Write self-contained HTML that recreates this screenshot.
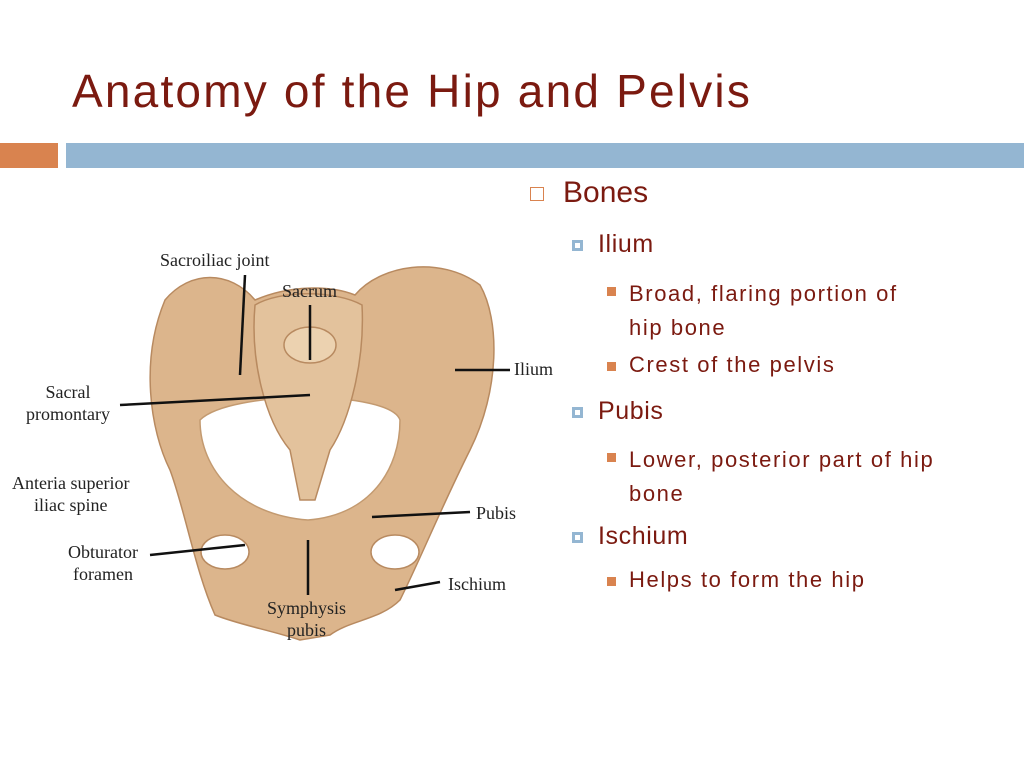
<!DOCTYPE html>
<html><head><style>
body{margin:0;width:1024px;height:768px;background:#fff;position:relative;overflow:hidden;font-family:"Liberation Sans",sans-serif;color:#7b1a10}
.t{position:absolute;left:72px;top:64px;font-size:46px;letter-spacing:2.2px;white-space:nowrap}
.b{position:absolute;top:143px;height:25px}
.x{position:absolute;white-space:nowrap}
.l{position:absolute;font-family:"Liberation Serif",serif;color:#222;font-size:18px;line-height:22px;text-align:center;white-space:nowrap}
.sq{position:absolute;width:9px;height:9px;background:#d9834f}
.s{font-size:22px;letter-spacing:1.6px}
</style></head><body>
<div class="t">Anatomy of the Hip and Pelvis</div>
<div class="b" style="left:0;width:58px;background:#d9834f"></div>
<div class="b" style="left:66px;width:958px;background:#94b6d2"></div>

<svg style="position:absolute;left:0;top:0" width="560" height="768">
<g fill="#dcb58c" stroke="#b88a60" stroke-width="1.5">
<path d="M165 300 C190 270 230 270 255 300 C290 285 330 285 355 295 C380 265 440 255 480 285 C500 320 500 390 470 450 C440 510 420 560 400 600 C380 620 350 620 330 635 L300 640 C270 630 240 625 215 615 C195 570 185 510 170 470 C150 430 140 360 165 300Z"/>
<path d="M200 420 C200 470 240 515 308 520 C370 515 400 470 400 420 C390 390 230 390 200 420Z" fill="#fff" stroke="#c39a70"/>
<path d="M255 305 C280 290 335 290 362 305 C365 360 350 420 330 450 L315 500 L300 500 L290 450 C265 420 250 360 255 305Z" fill="#e3c29c"/>
<ellipse cx="310" cy="345" rx="26" ry="18" fill="#ecd2b0"/>
<ellipse cx="225" cy="552" rx="24" ry="17" fill="#fff"/>
<ellipse cx="395" cy="552" rx="24" ry="17" fill="#fff"/>
</g>
<g stroke="#111" stroke-width="2.5" fill="none">
<line x1="245" y1="275" x2="240" y2="375"/>
<line x1="310" y1="305" x2="310" y2="360"/>
<line x1="455" y1="370" x2="510" y2="370"/>
<line x1="120" y1="405" x2="310" y2="395"/>
<line x1="372" y1="517" x2="470" y2="512"/>
<line x1="150" y1="555" x2="245" y2="545"/>
<line x1="308" y1="540" x2="308" y2="595"/>
<line x1="395" y1="590" x2="440" y2="582"/>
</g>
</svg>
<div class="l" style="left:160px;top:249px">Sacroiliac joint</div>
<div class="l" style="left:282px;top:280px">Sacrum</div>
<div class="l" style="left:514px;top:358px;text-align:left">Ilium</div>
<div class="l" style="left:26px;top:381px">Sacral<br>promontary</div>
<div class="l" style="left:12px;top:472px">Anteria superior<br>iliac spine</div>
<div class="l" style="left:476px;top:502px">Pubis</div>
<div class="l" style="left:68px;top:541px">Obturator<br>foramen</div>
<div class="l" style="left:448px;top:573px">Ischium</div>
<div class="l" style="left:267px;top:597px">Symphysis<br>pubis</div>

<div style="position:absolute;left:530px;top:187px;width:12px;height:12px;border:1.5px solid #d9834f"></div>
<div class="x" style="left:563px;top:176px;font-size:30px">Bones</div>
<div style="position:absolute;left:572px;top:240px;width:5px;height:5px;border:3px solid #94b6d2"></div>
<div class="x" style="left:598px;top:230px;font-size:25px;letter-spacing:0.6px">Ilium</div>
<div class="sq" style="left:607px;top:287px"></div>
<div class="x s" style="left:629px;top:277px;line-height:34px">Broad, flaring portion of<br>hip bone</div>
<div class="sq" style="left:607px;top:362px"></div>
<div class="x s" style="left:629px;top:352px">Crest of the pelvis</div>
<div style="position:absolute;left:572px;top:407px;width:5px;height:5px;border:3px solid #94b6d2"></div>
<div class="x" style="left:598px;top:397px;font-size:25px;letter-spacing:0.6px">Pubis</div>
<div class="sq" style="left:607px;top:453px"></div>
<div class="x s" style="left:629px;top:443px;line-height:34px">Lower, posterior part of hip<br>bone</div>
<div style="position:absolute;left:572px;top:532px;width:5px;height:5px;border:3px solid #94b6d2"></div>
<div class="x" style="left:598px;top:522px;font-size:25px;letter-spacing:0.6px">Ischium</div>
<div class="sq" style="left:607px;top:577px"></div>
<div class="x s" style="left:629px;top:567px">Helps to form the hip</div>
</body></html>
